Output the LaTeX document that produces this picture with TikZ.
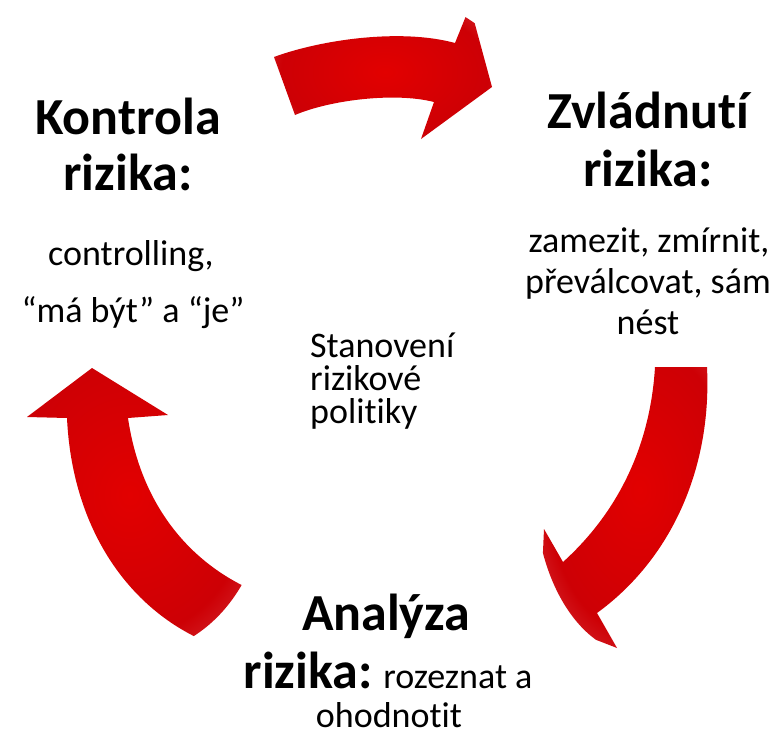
\documentclass[tikz,border=0pt]{standalone}
\usepackage{fontspec}
\setmainfont{Carlito}[Ligatures=NoCommon]
\definecolor{arrowred}{RGB}{226,0,0}
\definecolor{arrowdark}{RGB}{205,0,5}
\definecolor{arrowpale}{RGB}{230,140,150}
\pgfdeclareradialshading{arrowshade}{\pgfpoint{0bp}{0bp}}{color(0bp)=(arrowred); color(22bp)=(arrowdark); color(48bp)=(arrowpale); color(70bp)=(arrowpale)}
\tikzset{
  headtext/.style={font=\bfseries\fontsize{52}{56}\selectfont, inner sep=0pt, anchor=base},
  bodytext/.style={font=\fontsize{36}{40}\selectfont, inner sep=0pt, anchor=base},
  midtext/.style={font=\fontsize{36}{40}\selectfont, inner sep=0pt, anchor=base west},
}
\begin{document}
\begin{tikzpicture}[x=1pt,y=-1pt]
\useasboundingbox (0,0) rectangle (780,736);
\fill[white] (0,0) rectangle (780,736);

% top arrow (pointing right)
\begin{scope}
\clip (274,57) .. controls (320,40) and (400,28) .. (455,43) -- (470,6) -- (492,87) -- (421,139) -- (434,102) .. controls (395,92) and (330,100) .. (295,115) -- cycle;
\shade[shading=arrowshade] (385,72) ellipse (118 and 75);
\end{scope}

% right arrow (pointing down-left)
\begin{scope}
\clip (655,367) -- (707,367) .. controls (712,470) and (670,560) .. (597,613) -- (617,648) -- (540,618) -- (544,529) -- (563,562) .. controls (615,515) and (650,450) .. (655,367) -- cycle;
\shade[shading=arrowshade] (640,490) ellipse (105 and 165);
\end{scope}

% left arrow (pointing up)
\begin{scope}
\clip (92,368) -- (168,415) -- (128,418) .. controls (140,500) and (185,560) .. (252,590) -- (202,640) .. controls (125,605) and (72,525) .. (67,418) -- (27,417) -- cycle;
\shade[shading=arrowshade] (130,495) ellipse (135 and 160);
\end{scope}

% Kontrola rizika
\node[headtext] (k1) at (128,134) {Kontrola};
\node[headtext] (k2) at (128,190) {rizika:};
\node[bodytext] (k3) at (131,265) {controlling,};
\node[bodytext] (k4) at (133,322) {“má být” a “je”};

% Zvladnuti rizika
\node[headtext] (z1) at (648,128) {Zvládnutí};
\node[headtext] (z2) at (648,186) {rizika:};
\node[bodytext] (z3) at (649,252) {zamezit, zmírnit,};
\node[bodytext] (z4) at (648,293) {převálcovat, sám};
\node[bodytext] (z5) at (648,334) {nést};

% center
\node[midtext] (s1) at (310,357) {Stanovení};
\node[midtext] (s2) at (310,390) {rizikové};
\node[midtext] (s3) at (310,423) {politiky};

% Analyza rizika
\node[headtext] (a1) at (386,630) {Analýza};
\node[bodytext] (a2) at (388,688) {{\bfseries\fontsize{52}{56}\selectfont rizika:} rozeznat a};
\node[bodytext] (a3) at (389,727) {ohodnotit};
\end{tikzpicture}
\end{document}
